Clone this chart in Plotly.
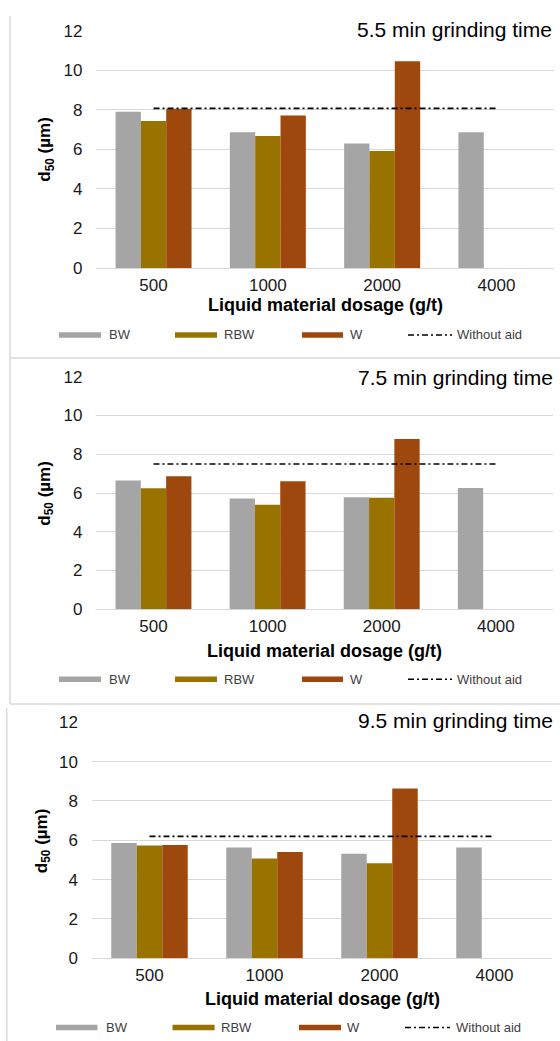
import plotly.graph_objects as go

# ---------------- data ----------------
categories = ["500", "1000", "2000", "4000"]
series_names = ["BW", "RBW", "W"]
panel_titles = ["5.5 min grinding time", "7.5 min grinding time", "9.5 min grinding time"]

bw_values = [
    [7.90, 6.87, 6.29, 6.87],
    [6.64, 5.71, 5.78, 6.26],
    [5.86, 5.64, 5.32, 5.63],
]
rbw_values = [
    [7.43, 6.68, 5.92, None],
    [6.24, 5.40, 5.76, None],
    [5.73, 5.08, 4.83, None],
]
w_values = [
    [8.05, 7.71, 10.45, None],
    [6.86, 6.60, 8.78, None],
    [5.76, 5.41, 8.64, None],
]
without_aid = [8.07, 7.50, 6.20]

y_ticks = [0, 2, 4, 6, 8, 10, 12]
x_title = "Liquid material dosage (g/t)"
y_title = "d<sub>50</sub> (µm)"

# ---------------- style ----------------
W, H = 560, 1041
FONT = "Arial, 'Liberation Sans', sans-serif"
colors = {"BW": "#A5A5A5", "RBW": "#997300", "W": "#9E480E"}
GRID = "#D9D9D9"
FRAME = "#D9D9D9"

def px_x(x):
    return x / W

def px_y(y):
    return 1 - y / H

# pixel layout of each panel
panels = [
    dict(x0=96.4, x1=553.6, ytop=30.7, ybot=268.0, title_y=29.5, title_x=553.5,
         ytitle_x=46.4, xtitle_y=305.0, leg_y=335.0,
         leg=[(59, 101, 106.7), (175, 217, 222), (302, 343, 348), (408, 452, 455)]),
    dict(x0=96.4, x1=552.9, ytop=376.7, ybot=609.3, title_y=377.0, title_x=555.0,
         ytitle_x=45.7, xtitle_y=651.0, leg_y=679.3,
         leg=[(59, 101, 106.7), (175, 217, 222), (302, 343, 348), (408, 452, 455)]),
    dict(x0=92.0, x1=552.0, ytop=722.3, ybot=958.3, title_y=720.5, title_x=554.6,
         ytitle_x=42.9, xtitle_y=999.0, leg_y=1027.5,
         leg=[(56, 97.5, 103.6), (172.5, 214.6, 219), (299, 341, 345), (405, 450, 453.6)]),
]

fig = go.Figure()
shapes = []
annotations = []

for i, p in enumerate(panels):
    sfx = "" if i == 0 else str(i + 1)
    xa, ya = "x" + sfx, "y" + sfx
    vals = {"BW": bw_values[i], "RBW": rbw_values[i], "W": w_values[i]}
    for name in series_names:
        fig.add_trace(go.Bar(
            x=categories, y=vals[name], name=name, xaxis=xa, yaxis=ya,
            marker=dict(color=colors[name], line=dict(width=0)),
            showlegend=False,
        ))
    fig.add_trace(go.Scatter(
        x=categories, y=[without_aid[i]] * len(categories), name="Without aid",
        mode="lines", xaxis=xa, yaxis=ya,
        line=dict(color="#000000", width=1.6, dash="6px,3px,2px,3px"),
        showlegend=False,
    ))

    fig.layout["xaxis" + sfx] = dict(
        domain=[px_x(p["x0"]), px_x(p["x1"])], anchor=ya, automargin=False,
        type="category", range=[-0.5, 3.5], showgrid=False, showline=False,
        zeroline=False, ticks="", tickfont=dict(size=17, color="#1a1a1a", family=FONT),
        ticklabelstandoff=5,
    )
    fig.layout["yaxis" + sfx] = dict(
        domain=[px_y(p["ybot"]), px_y(p["ytop"])], anchor=xa, automargin=False,
        range=[0, 12], tickvals=y_ticks, showgrid=True, gridcolor=GRID, gridwidth=1,
        zeroline=True, zerolinecolor=GRID, zerolinewidth=1, showline=False, ticks="",
        tickfont=dict(size=17, color="#1a1a1a", family=FONT), ticklabelstandoff=13,
    )

    # panel title
    annotations.append(dict(
        text=panel_titles[i], xref="paper", yref="paper",
        x=px_x(p["title_x"]), y=px_y(p["title_y"]), xanchor="right", yanchor="middle",
        showarrow=False, font=dict(size=21, color="#000000", family=FONT),
    ))
    # axis titles
    annotations.append(dict(
        text="<b>" + x_title + "</b>", xref="paper", yref="paper",
        x=px_x((p["x0"] + p["x1"]) / 2), y=px_y(p["xtitle_y"]), xanchor="center", yanchor="middle",
        showarrow=False, font=dict(size=18, color="#000000", family=FONT),
    ))
    annotations.append(dict(
        text="<b>" + y_title + "</b>", xref="paper", yref="paper", textangle=-90,
        x=px_x(p["ytitle_x"]), y=px_y((p["ytop"] + p["ybot"]) / 2), xanchor="center", yanchor="middle",
        showarrow=False, font=dict(size=17, color="#000000", family=FONT),
    ))

    # legend (drawn manually to match wide swatches)
    leg_names = series_names + ["Without aid"]
    for (sx0, sx1, tx), nm in zip(p["leg"], leg_names):
        if nm == "Without aid":
            shapes.append(dict(type="line", xref="paper", yref="paper",
                               x0=px_x(sx0), x1=px_x(sx1), y0=px_y(p["leg_y"]), y1=px_y(p["leg_y"]),
                               line=dict(color="#000000", width=1.6, dash="6px,3px,2px,3px")))
        else:
            shapes.append(dict(type="rect", xref="paper", yref="paper",
                               x0=px_x(sx0), x1=px_x(sx1),
                               y0=px_y(p["leg_y"] + 2.7), y1=px_y(p["leg_y"] - 2.7),
                               line=dict(width=0), fillcolor=colors[nm]))
        annotations.append(dict(
            text=nm, xref="paper", yref="paper", x=px_x(tx), y=px_y(p["leg_y"]),
            xanchor="left", yanchor="middle", showarrow=False,
            font=dict(size=13, color="#404040", family=FONT),
        ))

# panel frames
frame_lines = [
    (10, 16, 10, 358), (10, 358, 560, 358),
    (10, 358, 10, 704), (10, 704, 560, 704),
    (6.7, 708, 6.7, 1041),
]
for (x0, y0, x1, y1) in frame_lines:
    shapes.append(dict(type="line", xref="paper", yref="paper",
                       x0=px_x(x0), y0=px_y(y0), x1=px_x(x1), y1=px_y(y1),
                       line=dict(color=FRAME, width=1.5)))

fig.update_layout(
    width=W, height=H, margin=dict(l=0, r=0, t=0, b=0, pad=0, autoexpand=False),
    paper_bgcolor="#FFFFFF", plot_bgcolor="#FFFFFF",
    barmode="group", bargap=0.335, bargroupgap=0,
    showlegend=False, shapes=shapes, annotations=annotations,
    font=dict(family=FONT),
)

fig.write_html(
    "out.html",
    config={"displayModeBar": False},
    post_script="document.body.style.margin='0';document.body.style.overflow='hidden';"
                "document.documentElement.style.overflow='hidden';",
)
